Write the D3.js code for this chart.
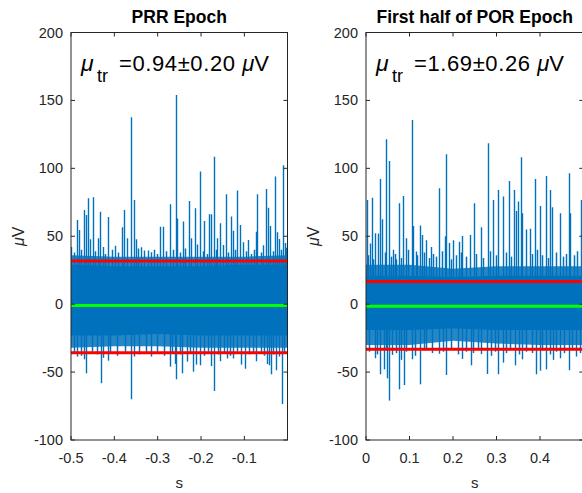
<!DOCTYPE html>
<html><head><meta charset="utf-8">
<script src="https://cdn.jsdelivr.net/npm/d3@7"></script>
<style>body{margin:0;background:#fff}svg{display:block}</style>
</head><body>
<svg id="c" width="582" height="493"></svg>
<script>
// ---------- data ----------
const yTicks = [-100, -50, 0, 50, 100, 150, 200];
const leftXTicks = [-0.5, -0.4, -0.3, -0.2, -0.1];
const rightXTicks = [0, 0.1, 0.2, 0.3, 0.4];
const leftTitle = "PRR Epoch";
const rightTitle = "First half of POR Epoch";
const leftStats = ["0.94", "0.20"];
const rightStats = ["1.69", "0.26"];
const leftThresholds = [31.8, -35.7];
const rightThresholds = [16.6, -33.2];
const leftCenterLine = -1.0;
const rightCenterLine = -1.5;

// dense band envelopes (solid core and dense fringe)
const leftBandT = [-0.5, -0.4, -0.3, -0.2, -0.1, -0.0005];
const leftCoreHi = [29, 28, 28, 28, 29, 29];
const leftCoreLo = [-23, -23, -22, -23, -23, -23];
const leftFringeHi = [36, 35, 35, 35, 35, 36];
const leftFringeLo = [-32, -31, -31, -32, -32, -32];

const rightBandT = [0, 0.1, 0.2, 0.3, 0.4, 0.4995];
const rightCoreHi = [21, 21, 20, 21, 21, 21];
const rightCoreLo = [-19, -19, -18, -19, -19, -19];
const rightFringeHi = [29, 29, 26, 28, 28, 28];
const rightFringeLo = [-30, -30, -27, -29, -30, -30];

// large spikes (time, value)
const leftSpikeT = [-0.499,-0.487,-0.482,-0.471,-0.466,-0.461,-0.456,-0.450,-0.438,-0.432,-0.427,-0.415,-0.399,-0.383,-0.378,-0.371,-0.362,-0.355,-0.351,-0.339,-0.331,-0.322,-0.315,-0.295,-0.288,-0.272,-0.258,-0.256,-0.242,-0.228,-0.222,-0.215,-0.209,-0.203,-0.192,-0.182,-0.178,-0.170,-0.163,-0.156,-0.149,-0.143,-0.131,-0.126,-0.118,-0.111,-0.103,-0.092,-0.073,-0.070,-0.056,-0.050,-0.046,-0.040,-0.029,-0.025,-0.020,-0.011,-0.006,-0.003,
  -0.486,-0.470,-0.466,-0.431,-0.427,-0.415,-0.362,-0.355,-0.315,-0.272,-0.259,-0.258,-0.243,-0.232,-0.218,-0.212,-0.202,-0.176,-0.170,-0.157,-0.139,-0.127,-0.107,-0.099,-0.073,-0.048,-0.043,-0.039,-0.027,-0.021,-0.013];
const leftSpikeV = [42,62,54.6,69.3,65.7,78,47.8,78.7,48.5,68,42,64.2,43,56.6,69.3,48.5,137.6,76.7,47.8,41.9,39.5,39.5,38.3,57,57,73.5,154,63,60.8,76,48.5,70.6,44,97.6,61.3,66.2,66.2,108.6,48.5,59.5,43.5,81,64.5,54,83.6,58.3,45.5,47.2,53.4,81,43.4,84.8,71,57.6,93.9,53,48,102.2,45,41.5,
  -38.6,-40.6,-50.9,-58.2,-39.5,-41.6,-70,-38.6,-38.6,-46,-44,-55.3,-50.9,-42.3,-49.7,-44.5,-45,-45.6,-63.9,-42,-40,-40,-44.5,-47.5,-42,-44,-45,-51.6,-48.7,-38.6,-73.5];
// small spikes forming the grass around the band
const leftSmallT = [-0.492,-0.476,-0.445,-0.421,-0.405,-0.391,-0.346,-0.309,-0.301,-0.281,-0.265,-0.249,-0.236,-0.196,-0.186,-0.166,-0.138,-0.122,-0.096,-0.085,-0.078,-0.062,-0.033,-0.016,
  -0.494,-0.478,-0.452,-0.441,-0.409,-0.394,-0.376,-0.342,-0.326,-0.301,-0.285,-0.266,-0.248,-0.226,-0.194,-0.184,-0.162,-0.146,-0.133,-0.118,-0.089,-0.080,-0.062,-0.054,-0.033,-0.008];
const leftSmallV = [38,40,39,37,40,38,41,40,37,39,40,38,41,39,37,40,38,40,39,37,40,38,39,40,
  -36,-38,-35,-37,-36,-38,-35,-37,-36,-35,-38,-36,-37,-36,-38,-35,-37,-36,-38,-35,-37,-36,-35,-38,-37,-36];

const rightSpikeT = [0.003,0.0085,0.013,0.020,0.027,0.0315,0.0375,0.0467,0.0522,0.0614,0.070,0.0752,0.0857,0.0913,0.1051,0.108,0.114,0.1234,0.128,0.1386,0.1487,0.1678,0.1816,0.1846,0.190,0.200,0.2131,0.2214,0.240,0.2476,0.2637,0.2798,0.292,0.3028,0.3143,0.3287,0.3395,0.3441,0.3494,0.3556,0.3593,0.3671,0.3763,0.3885,0.3993,0.4131,0.423,0.4283,0.4467,0.466,0.4697,0.4949,
  0.020,0.033,0.0407,0.0483,0.0522,0.0605,0.0759,0.080,0.0867,0.1065,0.1234,0.1326,0.167,0.1832,0.2214,0.2407,0.265,0.2789,0.3034,0.315,0.3418,0.3593,0.390,0.3993,0.4131,0.43,0.445,0.4667,0.4834];
const rightSpikeV = [76.7,44.6,78.4,52.2,52,92.2,62.5,121.4,105.4,40,33,74.3,79.7,48.5,135.6,57.6,38.7,58,51,47,42,85.3,50,110.4,45,47,46,50.2,51,74.3,56.6,118.4,76.7,84,79.2,90.7,84,68.6,75.5,108.2,67,55,55.6,92.2,72.3,94.4,84,71.3,66.9,96.4,67,76.7,
  -39.8,-51.6,-48,-54.6,-71,-37.4,-62.7,-41,-59.5,-40.6,-59,-34,-36.5,-52.1,-40.3,-45,-36.8,-51.4,-51.6,-43,-45,-40.6,-51.6,-49,-48,-41,-39.8,-48.6,-38.6];
const rightSmallT = [0.005,0.017,0.044,0.057,0.066,0.081,0.096,0.118,0.133,0.145,0.155,0.162,0.174,0.195,0.206,0.218,0.231,0.253,0.270,0.285,0.298,0.321,0.334,0.382,0.393,0.405,0.418,0.437,0.452,0.459,0.478,0.486,
  0.006,0.026,0.045,0.069,0.092,0.113,0.138,0.151,0.176,0.196,0.211,0.230,0.247,0.258,0.287,0.296,0.322,0.331,0.352,0.368,0.381,0.404,0.422,0.437,0.456,0.474,0.491];
const rightSmallV = [36,33,38,35,37,34,40,36,38,34,37,35,39,33,36,38,35,37,34,39,36,38,35,37,40,36,34,38,35,37,36,39,
  -35,-37,-34,-36,-35,-38,-34,-36,-35,-33,-37,-35,-36,-34,-38,-35,-36,-34,-37,-35,-36,-34,-37,-35,-36,-34,-36];

// ---------- drawing ----------
const svg = d3.select("#c");
const BLUE = "#0072BD", AX = "#262626";
const FONT = "'Liberation Sans', Arial, Helvetica, sans-serif";
const yTop = 32.5, yBot = 440;
const y = d3.scaleLinear().domain([-100, 200]).range([yBot, yTop]);

function panel(cfg) {
  const x = d3.scaleLinear().domain(cfg.domain).range(cfg.range);
  const [x0, x1] = cfg.range;
  const g = svg.append("g");
  const clipId = "clip" + cfg.id;
  svg.append("clipPath").attr("id", clipId).append("rect")
    .attr("x", x0).attr("y", yTop).attr("width", x1 - x0).attr("height", yBot - yTop);
  const dg = g.append("g").attr("clip-path", `url(#${clipId})`);

  const band = cfg.bandT.map((t, i) => ({t, ch: cfg.coreHi[i], cl: cfg.coreLo[i], fh: cfg.fringeHi[i], fl: cfg.fringeLo[i]}));
  dg.append("path").datum(band)
    .attr("d", d3.area().x(d => x(d.t)).y0(d => y(d.fl)).y1(d => y(d.fh)))
    .attr("fill", BLUE).attr("fill-opacity", 0.85);
  dg.append("path").datum(band)
    .attr("d", d3.area().x(d => x(d.t)).y0(d => y(d.cl)).y1(d => y(d.ch)))
    .attr("fill", BLUE);

  const small = cfg.smallT.map((t, i) => ({t, v: cfg.smallV[i]}));
  dg.selectAll("line.sm").data(small).enter().append("line")
    .attr("x1", d => Math.round(x(d.t)) + 0.5).attr("x2", d => Math.round(x(d.t)) + 0.5)
    .attr("y1", y(0)).attr("y2", d => y(d.v))
    .attr("stroke", BLUE).attr("stroke-width", 1.5);

  const spikes = cfg.spikeT.map((t, i) => ({t, v: cfg.spikeV[i]}));
  dg.selectAll("line.sp").data(spikes).enter().append("line")
    .attr("x1", d => Math.round(x(d.t)) + 0.5).attr("x2", d => Math.round(x(d.t)) + 0.5)
    .attr("y1", y(0)).attr("y2", d => y(d.v))
    .attr("stroke", BLUE).attr("stroke-width", 1.4);

  cfg.thresholds.forEach(v => {
    dg.append("line").attr("x1", x0).attr("x2", x1).attr("y1", y(v)).attr("y2", y(v))
      .attr("stroke", "#FF0000").attr("stroke-width", 3);
  });
  dg.append("line").attr("x1", x0).attr("x2", x1).attr("y1", y(cfg.center)).attr("y2", y(cfg.center))
    .attr("stroke", "#00FF00").attr("stroke-width", 3);

  const ax = g.append("g");
  ax.append("rect").attr("x", x0).attr("y", yTop).attr("width", x1 - x0).attr("height", yBot - yTop)
    .attr("fill", "none").attr("stroke", AX).attr("stroke-width", 1);
  const tl = 4;
  cfg.xTicks.forEach(t => {
    const px = x(t);
    ax.append("line").attr("x1", px).attr("x2", px).attr("y1", yBot).attr("y2", yBot - tl).attr("stroke", AX);
    ax.append("line").attr("x1", px).attr("x2", px).attr("y1", yTop).attr("y2", yTop + tl).attr("stroke", AX);
    ax.append("text").attr("x", px).attr("y", yBot + 23).attr("text-anchor", "middle")
      .attr("font-family", FONT).attr("font-size", 14.5).attr("fill", AX).text(String(t));
  });
  yTicks.forEach(v => {
    const py = y(v);
    ax.append("line").attr("x1", x0).attr("x2", x0 + tl).attr("y1", py).attr("y2", py).attr("stroke", AX);
    ax.append("line").attr("x1", x1).attr("x2", x1 - tl).attr("y1", py).attr("y2", py).attr("stroke", AX);
    ax.append("text").attr("x", x0 - 8).attr("y", py + 5).attr("text-anchor", "end")
      .attr("font-family", FONT).attr("font-size", 14.5).attr("fill", AX).text(v);
  });
  ax.append("text").attr("x", (x0 + x1) / 2).attr("y", 488).attr("text-anchor", "middle")
    .attr("font-family", FONT).attr("font-size", 15).attr("fill", AX).text("s");
  const yl = ax.append("text").attr("transform", `translate(${x0 - 47},${(yTop + yBot) / 2}) rotate(-90)`)
    .attr("text-anchor", "middle").attr("font-family", FONT).attr("font-size", 16).attr("fill", AX);
  yl.append("tspan").attr("font-style", "italic").text("μ");
  yl.append("tspan").text("V");
  ax.append("text").attr("x", (x0 + x1) / 2).attr("y", 23).attr("text-anchor", "middle")
    .attr("font-family", FONT).attr("font-size", 17.5).attr("font-weight", "bold").attr("fill", "#000").text(cfg.title);

  // annotation: mu_tr = mean ± sem  muV
  const an = ax.append("text").attr("font-family", FONT).attr("fill", "#000").attr("font-size", 22);
  an.append("tspan").attr("x", x0 + 10).attr("y", 71).attr("font-size", 23).attr("font-style", "italic").text("μ");
  an.append("tspan").attr("x", x0 + 26).attr("y", 82).attr("font-size", 18).text("tr");
  an.append("tspan").attr("x", x0 + 48).attr("y", 71).attr("letter-spacing", 0.6)
    .text("=" + cfg.stats[0] + "±" + cfg.stats[1] + " ");
  an.append("tspan").attr("font-style", "italic").text("μ");
  an.append("tspan").text("V");
}

panel({id: "L", domain: [-0.5, -0.0005], range: [71, 287.5], xTicks: leftXTicks,
  bandT: leftBandT, coreHi: leftCoreHi, coreLo: leftCoreLo, fringeHi: leftFringeHi, fringeLo: leftFringeLo,
  spikeT: leftSpikeT, spikeV: leftSpikeV, smallT: leftSmallT, smallV: leftSmallV,
  thresholds: leftThresholds, center: leftCenterLine, title: leftTitle, stats: leftStats});
panel({id: "R", domain: [0, 0.4995], range: [366, 583.3], xTicks: rightXTicks,
  bandT: rightBandT, coreHi: rightCoreHi, coreLo: rightCoreLo, fringeHi: rightFringeHi, fringeLo: rightFringeLo,
  spikeT: rightSpikeT, spikeV: rightSpikeV, smallT: rightSmallT, smallV: rightSmallV,
  thresholds: rightThresholds, center: rightCenterLine, title: rightTitle, stats: rightStats});
</script>
</body></html>
